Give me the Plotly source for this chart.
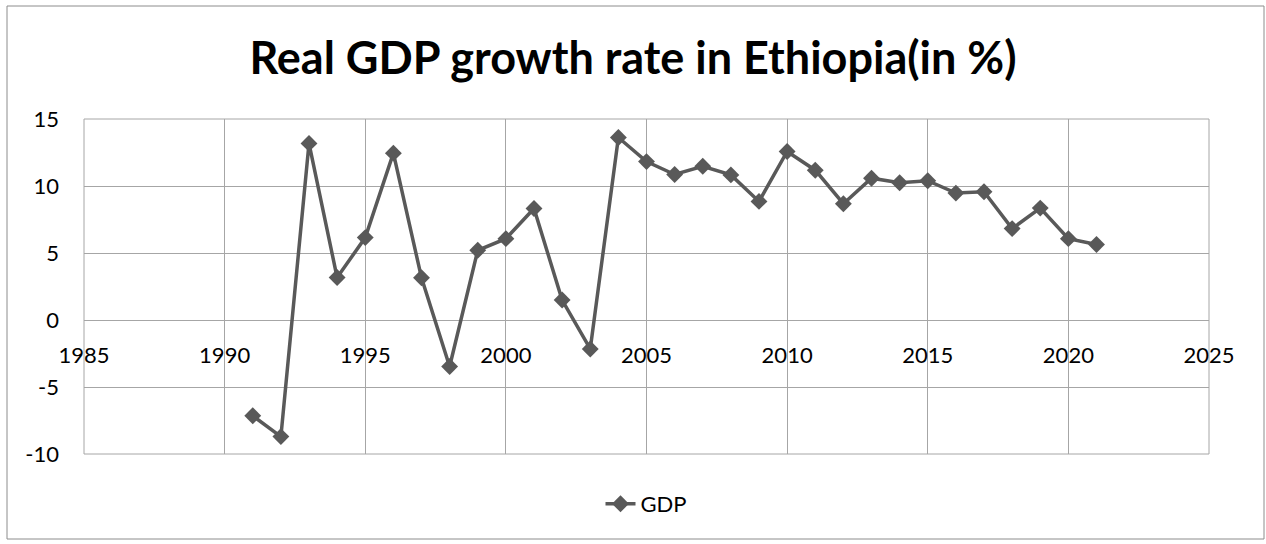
import plotly.graph_objects as go

years = list(range(1991, 2022))
gdp = [-7.15, -8.70, 13.18, 3.17, 6.15, 12.45, 3.15, -3.47, 5.20, 6.07,
       8.32, 1.49, -2.16, 13.62, 11.82, 10.86, 11.47, 10.83, 8.85, 12.58,
       11.18, 8.68, 10.58, 10.24, 10.39, 9.47, 9.57, 6.82, 8.35, 6.07, 5.63]

x_ticks = [1985, 1990, 1995, 2000, 2005, 2010, 2015, 2020, 2025]
y_ticks = [-10, -5, 0, 5, 10, 15]

LINE = "#595959"
GRID = "#a6a6a6"
FONT = "Lato"

fig = go.Figure()
fig.add_trace(go.Scatter(
    x=years, y=gdp, name="GDP", mode="lines+markers",
    line=dict(color=LINE, width=3.5),
    marker=dict(symbol="diamond", size=13, color=LINE),
    showlegend=True,
))

W, H = 1266, 544
L, R, T, B = 84, 57, 119, 90
pw, ph = W - L - R, H - T - B

fig.update_layout(
    width=W, height=H,
    margin=dict(l=L, r=R, t=T, b=B, autoexpand=False),
    paper_bgcolor="white", plot_bgcolor="white",
    font=dict(family=FONT, size=22, color="black"),
    title=dict(text="<b>Real GDP growth rate in Ethiopia(in %)</b>",
               x=0.5, xanchor="center", xref="container",
               y=1 - 58 / H, yanchor="middle", yref="container",
               font=dict(family=FONT, size=45, color="black")),
    showlegend=True,
    legend=dict(orientation="h", x=0.5, xanchor="center",
                y=(-(504 - (H - B)) / ph), yanchor="middle",
                font=dict(family=FONT, size=22, color="black"),
                bgcolor="rgba(0,0,0,0)"),
    xaxis=dict(range=[1985, 2025], tickvals=x_ticks, ticktext=[str(v) for v in x_ticks],
               showgrid=True, gridcolor=GRID, gridwidth=1,
               zeroline=False, showline=False, ticks="", automargin=False,
               anchor="free", position=0.4, ticklabelstandoff=20),
    yaxis=dict(range=[-10, 15], tickvals=y_ticks, ticktext=[str(v) for v in y_ticks],
               showgrid=True, gridcolor=GRID, gridwidth=1,
               zeroline=False, showline=False, ticks="", automargin=False,
               ticklabelstandoff=24),
)

# plot-area frame (gridlines at the range ends)
fig.add_shape(type="rect", xref="paper", yref="paper", x0=0, x1=1, y0=0, y1=1,
              line=dict(color=GRID, width=1), fillcolor="rgba(0,0,0,0)", layer="below")

# outer chart border
fig.add_shape(type="rect", xref="paper", yref="paper",
              x0=(7 - L) / pw, x1=(1264 - L) / pw,
              y0=(H - B - 539) / ph, y1=(H - B - 6) / ph,
              line=dict(color="#8c8c8c", width=1), fillcolor="rgba(0,0,0,0)",
              layer="below")

fig.write_html("out.html", config={"displayModeBar": False},
               post_script="document.body.style.margin='0';document.body.style.overflow='hidden';")
